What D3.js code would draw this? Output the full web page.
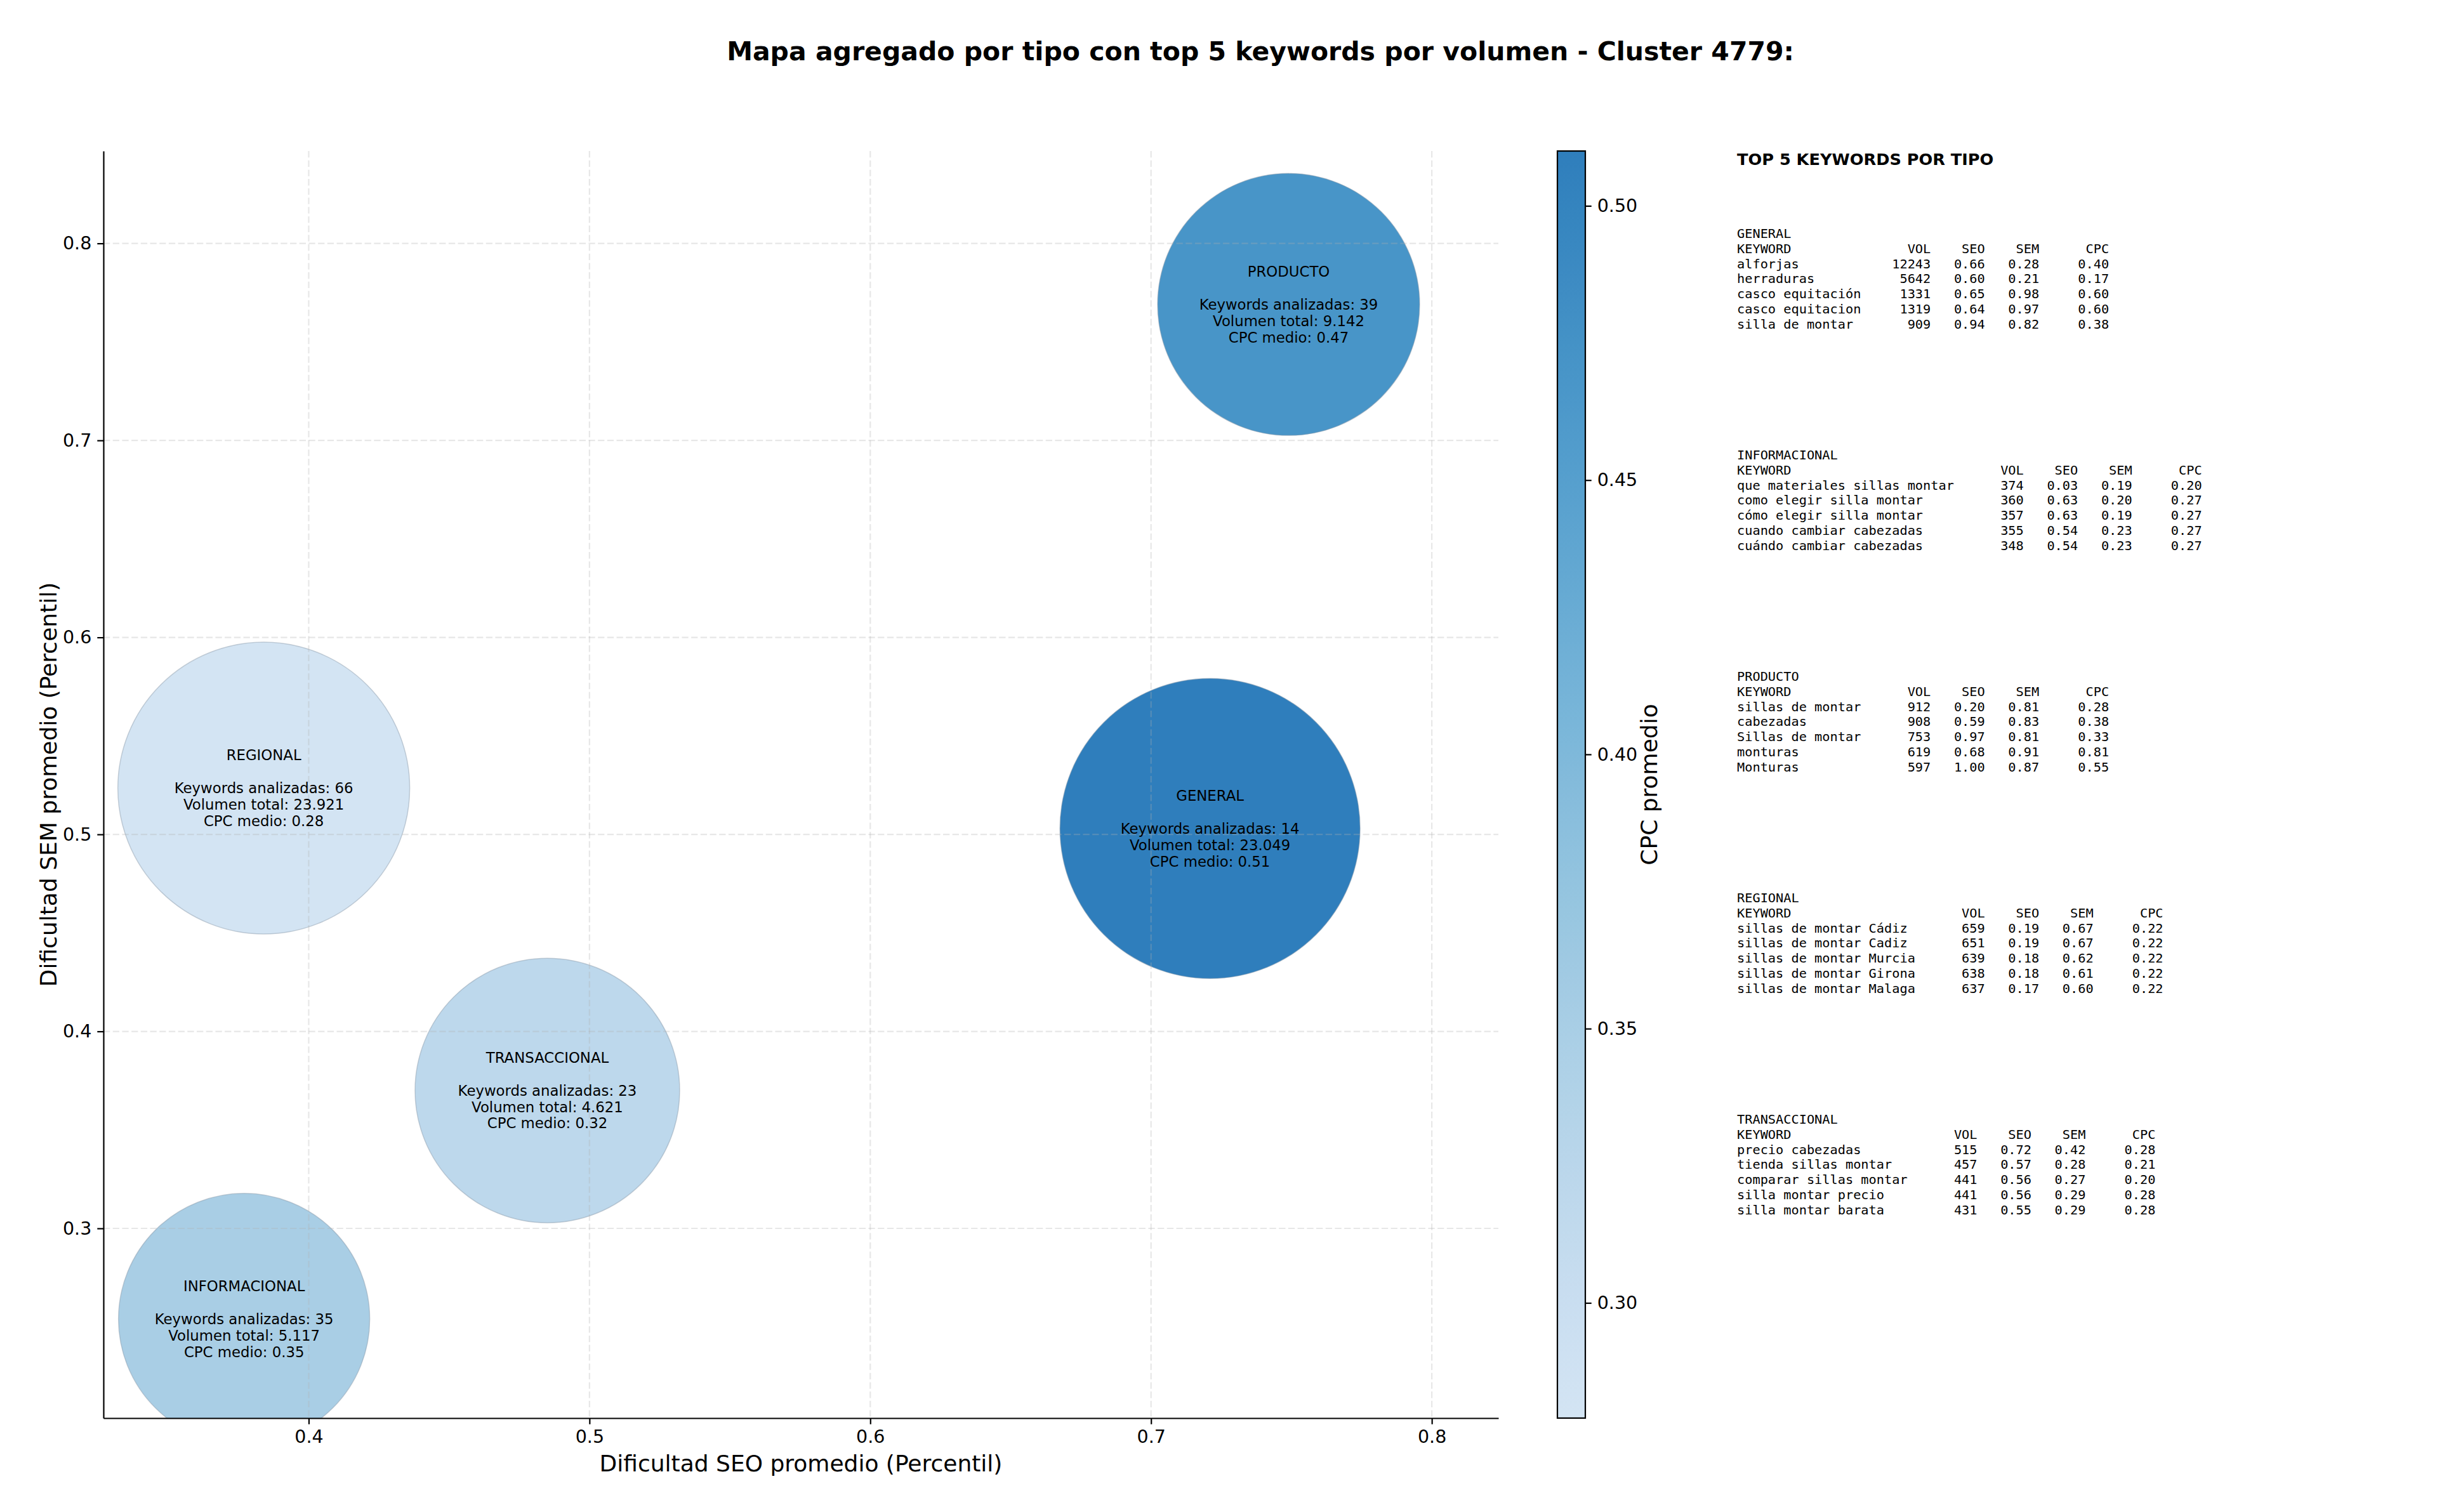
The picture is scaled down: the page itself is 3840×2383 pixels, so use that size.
<!DOCTYPE html>
<html>
<head>
<meta charset="utf-8">
<script src="https://cdn.jsdelivr.net/npm/d3@7"></script>
<style>
  body { margin: 0; background: #fff; }
  text { font-family: "DejaVu Sans", sans-serif; }
  .mono { font-family: "DejaVu Sans Mono", monospace; white-space: pre; }
</style>
</head>
<body>
<script>
// bubble data, one entry per tipo
var tipos = ['GENERAL', 'INFORMACIONAL', 'PRODUCTO', 'REGIONAL', 'TRANSACCIONAL'];
var seoProm = [0.721, 0.377, 0.749, 0.384, 0.485];
var semProm = [0.503, 0.254, 0.769, 0.5235, 0.370];
var keywordsCount = [14, 35, 39, 66, 23];
var volumenTotal = [23049, 5117, 9142, 23921, 4621];
var cpcMedio = [0.51, 0.35, 0.47, 0.279, 0.32];
var bubbleSize = [2900, 2032, 2211, 2742, 2254];

var xTicks = [0.4, 0.5, 0.6, 0.7, 0.8];
var yTicks = [0.3, 0.4, 0.5, 0.6, 0.7, 0.8];
var cbTicks = [0.30, 0.35, 0.40, 0.45, 0.50];

// top 5 keywords per tipo: keyword, vol, seo, sem, cpc
var topGeneral = [
  ['alforjas', 12243, 0.66, 0.28, 0.40],
  ['herraduras', 5642, 0.60, 0.21, 0.17],
  ['casco equitación', 1331, 0.65, 0.98, 0.60],
  ['casco equitacion', 1319, 0.64, 0.97, 0.60],
  ['silla de montar', 909, 0.94, 0.82, 0.38]
];
var topInformacional = [
  ['que materiales sillas montar', 374, 0.03, 0.19, 0.20],
  ['como elegir silla montar', 360, 0.63, 0.20, 0.27],
  ['cómo elegir silla montar', 357, 0.63, 0.19, 0.27],
  ['cuando cambiar cabezadas', 355, 0.54, 0.23, 0.27],
  ['cuándo cambiar cabezadas', 348, 0.54, 0.23, 0.27]
];
var topProducto = [
  ['sillas de montar', 912, 0.20, 0.81, 0.28],
  ['cabezadas', 908, 0.59, 0.83, 0.38],
  ['Sillas de montar', 753, 0.97, 0.81, 0.33],
  ['monturas', 619, 0.68, 0.91, 0.81],
  ['Monturas', 597, 1.00, 0.87, 0.55]
];
var topRegional = [
  ['sillas de montar Cádiz', 659, 0.19, 0.67, 0.22],
  ['sillas de montar Cadiz', 651, 0.19, 0.67, 0.22],
  ['sillas de montar Murcia', 639, 0.18, 0.62, 0.22],
  ['sillas de montar Girona', 638, 0.18, 0.61, 0.22],
  ['sillas de montar Malaga', 637, 0.17, 0.60, 0.22]
];
var topTransaccional = [
  ['precio cabezadas', 515, 0.72, 0.42, 0.28],
  ['tienda sillas montar', 457, 0.57, 0.28, 0.21],
  ['comparar sillas montar', 441, 0.56, 0.27, 0.20],
  ['silla montar precio', 441, 0.56, 0.29, 0.28],
  ['silla montar barata', 431, 0.55, 0.29, 0.28]
];
var tablas = [topGeneral, topInformacional, topProducto, topRegional, topTransaccional];

var width = 3840, height = 2383;
var margin = {top: 238, left: 163, bottom: 148, right: 1479};
var plotW = width - margin.left - margin.right;
var plotH = height - margin.top - margin.bottom;

var svg = d3.select("body").append("svg")
  .attr("width", width)
  .attr("height", height);

var x = d3.scaleLinear().domain([0.3269, 0.8237]).range([0, plotW]);
var y = d3.scaleLinear().domain([0.2037, 0.8469]).range([plotH, 0]);
var r = d3.scaleSqrt().domain([0, 2900]).range([0, 236.5]);
var color = d3.scaleSequential(function(t) { return d3.interpolateBlues(0.18 + 0.52 * t); })
  .domain([0.279, 0.51]);

var g = svg.append("g")
  .attr("transform", "translate(" + margin.left + "," + margin.top + ")");

g.append("clipPath").attr("id", "clip")
  .append("rect").attr("width", plotW).attr("height", plotH);

var data = tipos.map(function(t, i) {
  return {tipo: t, seo: seoProm[i], sem: semProm[i], n: keywordsCount[i],
          vol: volumenTotal[i], cpc: cpcMedio[i], s: bubbleSize[i]};
});

// bubbles
g.append("g").attr("clip-path", "url(#clip)")
  .selectAll("circle").data(data).enter().append("circle")
  .attr("cx", function(d) { return x(d.seo); })
  .attr("cy", function(d) { return y(d.sem); })
  .attr("r", function(d) { return r(d.s); })
  .attr("fill", function(d) { return color(d.cpc); })
  .attr("stroke", "#8a9aa8")
  .attr("stroke-opacity", 0.45)
  .attr("stroke-width", 1.5);

// grid on top of the bubbles, like matplotlib does
var grid = g.append("g").attr("stroke", "#b0b0b0").attr("stroke-opacity", 0.3)
  .attr("stroke-width", 2.2).attr("stroke-dasharray", "10.3,4.4");
grid.selectAll(".gx").data(xTicks).enter().append("line")
  .attr("x1", x).attr("x2", x).attr("y1", 0).attr("y2", plotH);
grid.selectAll(".gy").data(yTicks).enter().append("line")
  .attr("y1", y).attr("y2", y).attr("x1", 0).attr("x2", plotW);

// bubble labels
var fmtVol = d3.formatLocale({decimal: ",", thousands: ".", grouping: [3], currency: ["", ""]}).format(",");
var labels = g.append("g").selectAll("text").data(data).enter().append("text")
  .attr("text-anchor", "middle")
  .attr("font-size", 22.8)
  .attr("fill", "#000");
labels.each(function(d) {
  var lines = [d.tipo, "", "Keywords analizadas: " + d.n, "Volumen total: " + fmtVol(d.vol),
               "CPC medio: " + d.cpc.toFixed(2)];
  var t = d3.select(this);
  lines.forEach(function(l, i) {
    t.append("tspan")
      .attr("x", x(d.seo))
      .attr("y", y(d.sem) + (i - 2) * 25.9)
      .attr("dominant-baseline", "central")
      .text(l);
  });
});

// axes
var xAxis = g.append("g").attr("transform", "translate(0," + plotH + ")")
  .call(d3.axisBottom(x).tickValues(xTicks).tickFormat(d3.format(".1f"))
    .tickSize(9.7).tickSizeOuter(0).tickPadding(9));
var yAxis = g.append("g")
  .call(d3.axisLeft(y).tickValues(yTicks).tickFormat(d3.format(".1f"))
    .tickSize(9.7).tickSizeOuter(0).tickPadding(9));
[xAxis, yAxis].forEach(function(a) {
  a.selectAll("text").attr("font-size", 28.5).attr("fill", "#000")
    .style("font-family", "DejaVu Sans");
  a.selectAll("line").attr("stroke", "#000").attr("stroke-width", 2.2);
  a.select(".domain").attr("stroke", "#000").attr("stroke-width", 2.2);
});

g.append("text")
  .attr("x", plotW / 2).attr("y", plotH + 71)
  .attr("text-anchor", "middle").attr("dominant-baseline", "central")
  .attr("font-size", 36)
  .text("Dificultad SEO promedio (Percentil)");

g.append("text")
  .attr("transform", "translate(" + (76 - margin.left) + "," + (plotH / 2) + ") rotate(-90)")
  .attr("text-anchor", "middle").attr("dominant-baseline", "central")
  .attr("font-size", 36)
  .text("Dificultad SEM promedio (Percentil)");

// title
svg.append("text")
  .attr("x", 1986).attr("y", 81)
  .attr("text-anchor", "middle").attr("dominant-baseline", "central")
  .attr("font-size", 41).attr("font-weight", "bold")
  .text("Mapa agregado por tipo con top 5 keywords por volumen - Cluster 4779:");

// colorbar
var cbX = 2454, cbW = 44;
var cb = d3.scaleLinear().domain(color.domain()).range([margin.top + plotH, margin.top]);
var grad = svg.append("defs").append("linearGradient").attr("id", "cbgrad")
  .attr("x1", 0).attr("y1", 1).attr("x2", 0).attr("y2", 0);
d3.range(0, 1.0001, 0.05).forEach(function(t) {
  grad.append("stop").attr("offset", t)
    .attr("stop-color", color(color.domain()[0] + t * (color.domain()[1] - color.domain()[0])));
});
svg.append("rect")
  .attr("x", cbX).attr("y", margin.top).attr("width", cbW).attr("height", plotH)
  .attr("fill", "url(#cbgrad)").attr("stroke", "#000").attr("stroke-width", 2.2);
var cbAxis = svg.append("g").attr("transform", "translate(" + (cbX + cbW) + ",0)")
  .call(d3.axisRight(cb).tickValues(cbTicks).tickFormat(d3.format(".2f"))
    .tickSize(9.7).tickSizeOuter(0).tickPadding(9));
cbAxis.select(".domain").remove();
cbAxis.selectAll("text").attr("font-size", 28.5).attr("fill", "#000")
  .style("font-family", "DejaVu Sans");
cbAxis.selectAll("line").attr("stroke", "#000").attr("stroke-width", 2.2);

svg.append("text")
  .attr("transform", "translate(2598," + (margin.top + plotH / 2) + ") rotate(-90)")
  .attr("text-anchor", "middle").attr("dominant-baseline", "central")
  .attr("font-size", 36)
  .text("CPC promedio");

// keyword tables on the right
var tx = 2737;
svg.append("text")
  .attr("x", tx).attr("y", 251)
  .attr("dominant-baseline", "central")
  .attr("font-size", 25.6).attr("font-weight", "bold")
  .text("TOP 5 KEYWORDS POR TIPO");

tablas.forEach(function(rows, k) {
  var w = d3.max(rows, function(d) { return d[0].length; }) + 2;
  var lines = [tipos[k],
    "KEYWORD".padEnd(w) + " " + "VOL".padStart(6) + " " + "SEO".padStart(6) + " " +
      "SEM".padStart(6) + " " + "CPC".padStart(8)];
  rows.forEach(function(d) {
    lines.push(d[0].padEnd(w) + " " + String(d[1]).padStart(6) + " " +
      d[2].toFixed(2).padStart(6) + " " + d[3].toFixed(2).padStart(6) + " " +
      d[4].toFixed(2).padStart(8));
  });
  var y0 = 368 + k * 349;
  svg.append("g").selectAll("text").data(lines).enter().append("text")
    .attr("class", "mono")
    .attr("x", tx)
    .attr("y", function(d, i) { return y0 + i * 23.8; })
    .attr("dominant-baseline", "central")
    .attr("font-size", 20.3)
    .text(function(d) { return d; });
});
</script>
</body>
</html>
